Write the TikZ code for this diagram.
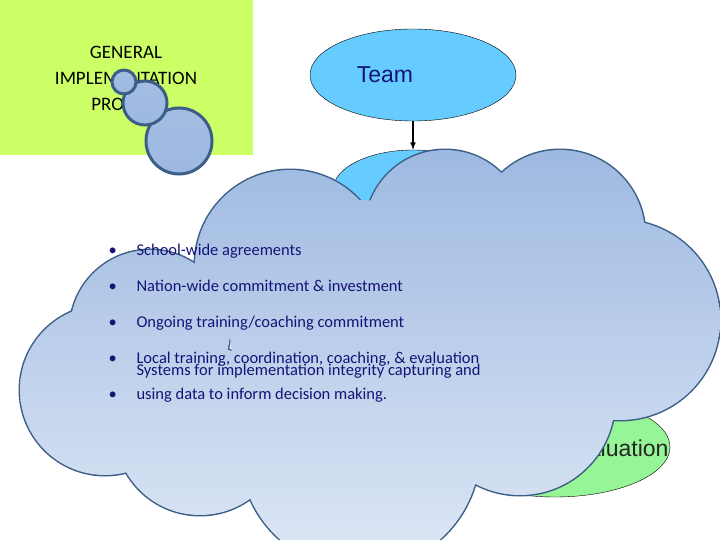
\documentclass[tikz,border=0pt]{standalone}
\usepackage{fontspec}
\usetikzlibrary{shapes.geometric}
\setmainfont{Carlito}
\newfontfamily\arialf{Liberation Sans}
\begin{document}
\begin{tikzpicture}[x=1pt,y=-1pt,
  cl/.style={line width=3pt,draw=cloudline},
  bul/.style={anchor=base west,text=bultext,font=\fontsize{16.5}{24}\selectfont,align=left}]
\definecolor{cloudline}{RGB}{60,95,135}
\definecolor{bultext}{RGB}{20,20,120}
\definecolor{lime}{RGB}{204,255,102}
\definecolor{skyb}{RGB}{102,204,255}
\definecolor{mint}{RGB}{150,245,150}
\definecolor{ctop}{RGB}{158,185,225}
\definecolor{cbot}{RGB}{222,232,245}
\useasboundingbox (0,0) rectangle (720,540);
\fill[lime] (0,0) rectangle (253,155);
\node[font=\fontsize{19}{26}\selectfont,align=center] (title) at (126,78) {GENERAL\\IMPLEMENTATION\\PROCESS};
\node[ellipse,draw=black,fill=skyb,minimum width=206,minimum height=92,inner sep=0] (team) at (413,75) {};
\node[text=bultext,font=\arialf\fontsize{23}{26}\selectfont] at (385,75) {Team};
\node[draw=black,fill=skyb,ellipse,minimum width=160,minimum height=80] (mid) at (413,190) {};
\draw[-latex,line width=1.5pt] (team.south) -- (mid.north);
\node[draw=black,fill=mint,ellipse,minimum width=230,minimum height=100] (ev) at (555,447) {};
\node[anchor=base east,font=\arialf\fontsize{23}{26}\selectfont,text=black!85] at (672,456) {Evaluation};
% thought bubbles
\foreach \x/\y/\r in {179/141/33,145/103/22,124/82/12}{
  \shade[top color=ctop!95,bottom color=ctop,cl] (\x,\y) circle (\r);}
% cloud
\def\lobes{(290,265) circle (95) (445,230) circle (80) (560,235) circle (85) (620,320) circle (100) (150,330) circle (80) (105,390) circle (85) (200,430) circle (85) (360,450) circle (120) (520,400) circle (95) (360,330) circle (130) (500,300) circle (90)}
\foreach \c in {(290,265) circle (95),(445,230) circle (80),(560,235) circle (85),(620,320) circle (100),(150,330) circle (80),(105,390) circle (85),(200,430) circle (85),(360,450) circle (120),(520,400) circle (95)}{
  \draw[cl] \c;}
\shade[top color=ctop,bottom color=cbot,nonzero rule] \lobes;
\foreach \y/\t [count=\i] in {250/{School-wide agreements},286/{Nation-wide commitment \&{} investment},322/{Ongoing training/coaching commitment},358/{Local training, coordination, coaching, \& evaluation}}{
  \node[bul] (b\i) at (105,\y+5) {•};
  \node[bul] (t\i) at (133,\y+5) {\t};}
\node[bul] (b5) at (105,399) {•};
\node[bul,anchor=base west] (t5) at (133,399) {Systems for implementation integrity capturing and\\using data to inform decision making.};
\end{tikzpicture}
\end{document}
